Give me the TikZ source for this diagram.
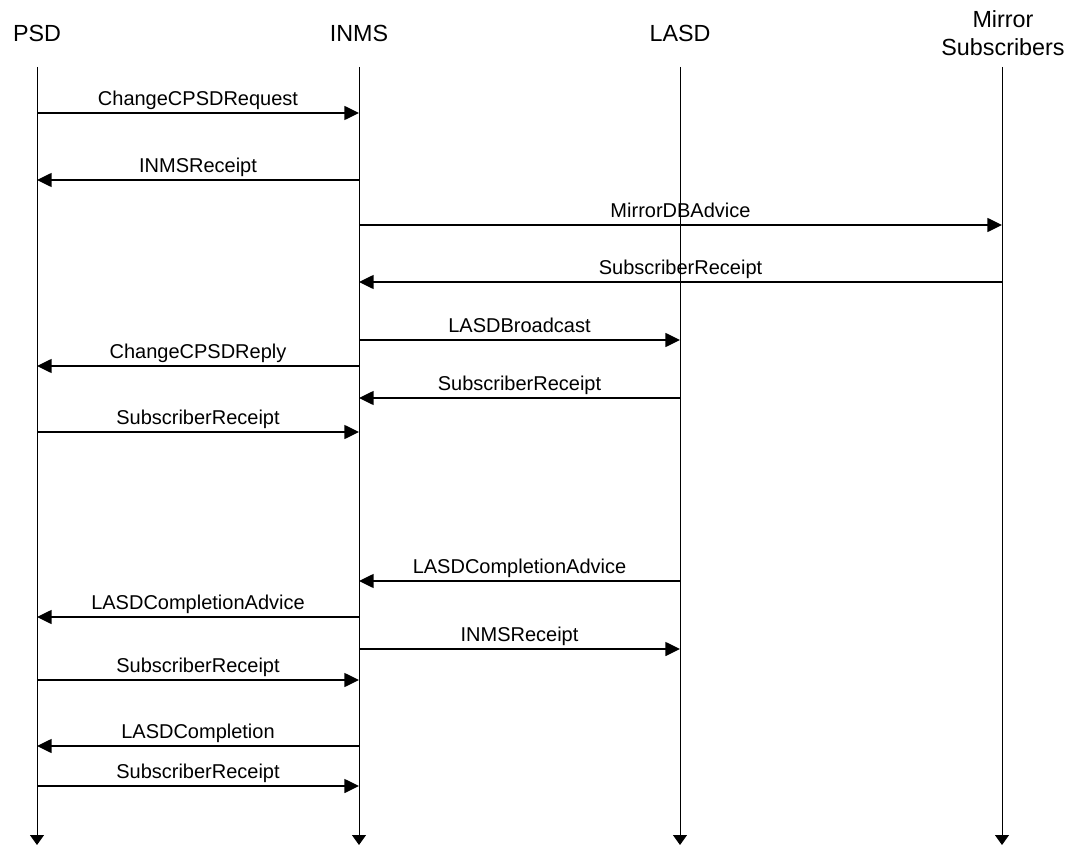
\documentclass[tikz,border=0pt]{standalone}
\usepackage{fontspec}
\setmainfont{Liberation Sans}
\usetikzlibrary{arrows.meta}
\begin{document}
\begin{tikzpicture}[x=0.75pt,y=-0.75pt,
  life/.style={line width=0.75pt,-{Triangle[length=7.5pt,width=10.5pt]}},
  msgarrow/.style={line width=1.1pt,-{Triangle[length=11pt,width=10.5pt]}},
  head/.style={font=\fontsize{17.5}{21}\selectfont,align=center,inner sep=0pt,anchor=base},
  lbl/.style={font=\fontsize{15}{18}\selectfont,inner sep=0pt,anchor=base,yshift=5.5pt}]
\useasboundingbox (0,0) rectangle (1075,845);
% headers
\node[head] (hpsd) at (37,42) {PSD};
\node[head] (hinms) at (359,42) {INMS};
\node[head] (hlasd) at (680,42) {LASD};
\node[head] (hmir) at (1003,56) {Mirror\\Subscribers};
% lifeline ends
\coordinate (psd) at (37,67);
\coordinate (inms) at (359,67);
\coordinate (lasd) at (680,67);
\coordinate (mir) at (1002,67);
\coordinate (psdE) at (37,845);
\coordinate (inmsE) at (359,845);
\coordinate (lasdE) at (680,845);
\coordinate (mirE) at (1002,845);
\draw[life] (psd) -- (psdE);
\draw[life] (inms) -- (inmsE);
\draw[life] (lasd) -- (lasdE);
\draw[life] (mir) -- (mirE);
% messages
\newcommand{\seqmsg}[4]{\draw[msgarrow] (#1 |- 0,#3) -- node[lbl]{#4} (#2 |- 0,#3);}
\seqmsg{psd}{inms}{113}{ChangeCPSDRequest}
\seqmsg{inms}{psd}{180}{INMSReceipt}
\seqmsg{inms}{mir}{225}{MirrorDBAdvice}
\seqmsg{mir}{inms}{282}{SubscriberReceipt}
\seqmsg{inms}{lasd}{340}{LASDBroadcast}
\seqmsg{inms}{psd}{366}{ChangeCPSDReply}
\seqmsg{lasd}{inms}{398}{SubscriberReceipt}
\seqmsg{psd}{inms}{432}{SubscriberReceipt}
\seqmsg{lasd}{inms}{581}{LASDCompletionAdvice}
\seqmsg{inms}{psd}{617}{LASDCompletionAdvice}
\seqmsg{inms}{lasd}{649}{INMSReceipt}
\seqmsg{psd}{inms}{680}{SubscriberReceipt}
\seqmsg{inms}{psd}{746}{LASDCompletion}
\seqmsg{psd}{inms}{786}{SubscriberReceipt}
\end{tikzpicture}
\end{document}
